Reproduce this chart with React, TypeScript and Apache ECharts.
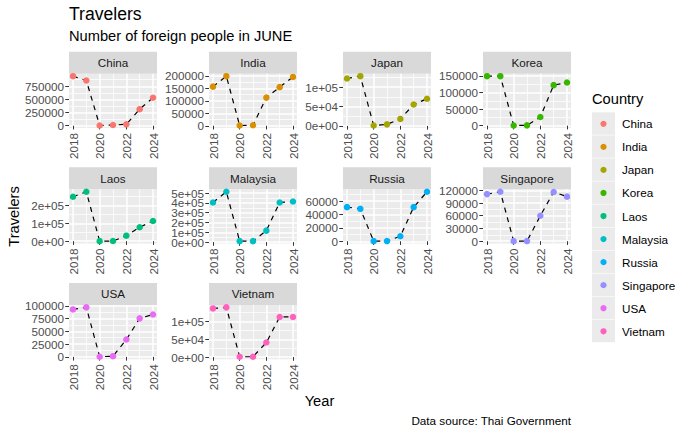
import React, { useEffect, useRef } from 'react';
import * as echarts from 'echarts';

const years = [2018, 2019, 2020, 2021, 2022, 2023, 2024];
const countries = ['China', 'India', 'Japan', 'Korea', 'Laos', 'Malaysia', 'Russia', 'Singapore', 'USA', 'Vietnam'];
const countryColors = ['#F8766D', '#D89000', '#A3A500', '#39B600', '#00BF7D', '#00BFC4', '#00B0F6', '#9590FF', '#E76BF3', '#FF62BC'];

const china = [942000, 860000, 4000, 13000, 27000, 315000, 533000];
const india = [157000, 199000, 1000, 2000, 113000, 155000, 196000];
const japan = [122000, 128000, 1000, 4000, 18000, 55000, 70000];
const korea = [149000, 149000, 500, 1000, 26000, 122000, 130000];
const laos = [248000, 276000, 500, 1000, 31000, 78000, 113000];
const malaysia = [405000, 514000, 10000, 10000, 117000, 405000, 415000];
const russia = [51000, 48500, 200, 300, 7500, 51000, 74000];
const singapore = [111000, 116500, 200, 300, 60000, 116000, 105000];
const usa = [93000, 97000, 300, 1400, 34000, 75500, 83000];
const vietnam = [137000, 140000, 1000, 1000, 41000, 113000, 113000];
const travelers = [china, india, japan, korea, laos, malaysia, russia, singapore, usa, vietnam];

const chinaTicks = [0, 250000, 500000, 750000];
const indiaTicks = [0, 50000, 100000, 150000, 200000];
const japanTicks = [0, 50000, 100000];
const koreaTicks = [0, 50000, 100000, 150000];
const laosTicks = [0, 100000, 200000];
const malaysiaTicks = [0, 100000, 200000, 300000, 400000, 500000];
const russiaTicks = [0, 20000, 40000, 60000];
const singaporeTicks = [0, 30000, 60000, 90000, 120000];
const usaTicks = [0, 25000, 50000, 75000, 100000];
const vietnamTicks = [0, 50000, 100000];
const yTicks = [chinaTicks, indiaTicks, japanTicks, koreaTicks, laosTicks, malaysiaTicks, russiaTicks, singaporeTicks, usaTicks, vietnamTicks];
const sciCountries = ['Japan', 'Laos', 'Malaysia', 'Vietnam'];

const xTicks = [2018, 2020, 2022, 2024];
const xMinorTicks = [2019, 2021, 2023];

const titleText = 'Travelers';
const subtitleText = 'Number of foreign people in JUNE';
const xTitle = 'Year';
const yTitle = 'Travelers';
const captionText = 'Data source: Thai Government';
const legendTitle = 'Country';

const FONT = 'Liberation Sans, Arial, Helvetica, sans-serif';

function sci(v: number): string {
  if (v === 0) return '0e+00';
  const e = Math.floor(Math.log10(Math.abs(v)));
  const m = Math.round((v / Math.pow(10, e)) * 100) / 100;
  return `${m}e+${String(e).padStart(2, '0')}`;
}

function minorOf(ticks: number[], lo: number, hi: number): number[] {
  const step = ticks[1] - ticks[0];
  const out: number[] = [];
  out.push(ticks[0] - step / 2);
  for (let i = 0; i < ticks.length; i++) out.push(ticks[i] + step / 2);
  return out.filter((v) => v > lo && v < hi);
}

export default function App() {
  const ref = useRef<HTMLDivElement>(null);
  useEffect(() => {
    if (!ref.current) return;
    const chart = echarts.init(ref.current, null, { renderer: 'svg' });

    const colLeft = [69, 209, 343, 483];
    const panelW = 88;
    const stripTop = [51.7, 167.3, 282.9];
    const stripH = 22;
    const panelH = 54.3;

    const grids: any[] = [];
    const xAxes: any[] = [];
    const yAxes: any[] = [];
    const series: any[] = [];
    const graphics: any[] = [];

    const xMin = 2018 - 0.3;
    const xMax = 2024 + 0.3;

    const labelBase = {
      show: true, margin: 5, color: '#4D4D4D', fontSize: 11.7, fontFamily: FONT,
      showMinLabel: true, showMaxLabel: true, hideOverlap: false,
    };

    countries.forEach((name, i) => {
      const r = Math.floor(i / 4);
      const c = i % 4;
      const left = colLeft[c];
      const top = stripTop[r] + stripH;
      grids.push({
        left, top, width: panelW, height: panelH,
        show: true, backgroundColor: '#EBEBEB', borderWidth: 0,
      });
      const vals = travelers[i];
      const lo = Math.min(...vals);
      const hi = Math.max(...vals);
      const rng = hi - lo;
      const yMin = lo - 0.05 * rng;
      const yMax = hi + 0.05 * rng;
      const isSci = sciCountries.includes(name);
      const fmt = (v: number) => (isSci ? sci(v) : String(Math.round(v)));

      xAxes.push({
        gridIndex: i, type: 'value', min: xMin, max: xMax,
        axisLine: { show: false },
        axisTick: { show: true, length: 3.7, customValues: xTicks, lineStyle: { color: '#333333', width: 1 } },
        axisLabel: { ...labelBase, customValues: xTicks, rotate: 90, formatter: (v: number) => String(v) },
        splitLine: { show: true, lineStyle: { color: '#FFFFFF', width: 1.5 } },
      });
      xAxes.push({
        gridIndex: i, type: 'value', min: xMin, max: xMax,
        axisLine: { show: false },
        axisTick: { show: false, customValues: xMinorTicks },
        axisLabel: { show: false },
        splitLine: { show: true, lineStyle: { color: '#FFFFFF', width: 0.75 } },
      });
      const yt = yTicks[i];
      const evenLabels = yt.filter((_, k) => k % 2 === 0);
      const oddLabels = yt.filter((_, k) => k % 2 === 1);
      // major: ticks, grid lines and every other label
      yAxes.push({
        gridIndex: i, type: 'value', min: yMin, max: yMax, position: 'left',
        axisLine: { show: false },
        axisTick: { show: true, length: 3.7, customValues: yt, lineStyle: { color: '#333333', width: 1 } },
        axisLabel: { ...labelBase, customValues: evenLabels, formatter: fmt },
        splitLine: { show: true, lineStyle: { color: '#FFFFFF', width: 1.5 } },
      });
      // minor grid lines
      yAxes.push({
        gridIndex: i, type: 'value', min: yMin, max: yMax, position: 'left',
        axisLine: { show: false },
        axisTick: { show: false, customValues: minorOf(yt, yMin, yMax) },
        axisLabel: { show: false },
        splitLine: { show: true, lineStyle: { color: '#FFFFFF', width: 0.75 } },
      });
      // remaining labels
      yAxes.push({
        gridIndex: i, type: 'value', min: yMin, max: yMax, position: 'left', offset: 0,
        axisLine: { show: false },
        axisTick: { show: false, customValues: oddLabels },
        axisLabel: { ...labelBase, customValues: oddLabels, formatter: fmt },
        splitLine: { show: false },
      });

      const data = years.map((y, j) => [y, vals[j]]);
      series.push({
        type: 'line', name: name + ' trend', xAxisIndex: 2 * i, yAxisIndex: 3 * i,
        data, symbol: 'none', silent: true,
        lineStyle: { color: '#000000', width: 1.2, type: [5, 5] },
        z: 2,
      });
      series.push({
        type: 'scatter', name, xAxisIndex: 2 * i, yAxisIndex: 3 * i,
        data, symbolSize: 6.5, itemStyle: { color: countryColors[i], opacity: 1 },
        z: 3,
      });

      graphics.push({
        type: 'rect', shape: { x: left, y: stripTop[r], width: panelW, height: stripH },
        style: { fill: '#D9D9D9' }, silent: true,
      });
      graphics.push({
        type: 'text', x: left + panelW / 2, y: stripTop[r] + stripH / 2,
        style: { text: name, fill: '#1A1A1A', font: `11.7px ${FONT}`, align: 'center', verticalAlign: 'middle' },
        silent: true,
      });
    });

    // titles
    graphics.push({
      type: 'text', x: 69, y: 14,
      style: { text: titleText, fill: '#000', font: `17.6px ${FONT}`, align: 'left', verticalAlign: 'middle' },
    });
    graphics.push({
      type: 'text', x: 69, y: 36,
      style: { text: subtitleText, fill: '#000', font: `14.67px ${FONT}`, align: 'left', verticalAlign: 'middle' },
    });
    graphics.push({
      type: 'text', x: 319.5, y: 401,
      style: { text: xTitle, fill: '#000', font: `14.67px ${FONT}`, align: 'center', verticalAlign: 'middle' },
    });
    graphics.push({
      type: 'text', x: 14, y: 216.5, rotation: Math.PI / 2,
      style: { text: yTitle, fill: '#000', font: `14.67px ${FONT}`, align: 'center', verticalAlign: 'middle' },
    });
    graphics.push({
      type: 'text', x: 571, y: 420,
      style: { text: captionText, fill: '#000', font: `11.7px ${FONT}`, align: 'right', verticalAlign: 'middle' },
    });

    // legend
    graphics.push({
      type: 'text', x: 592, y: 99,
      style: { text: legendTitle, fill: '#000', font: `14.67px ${FONT}`, align: 'left', verticalAlign: 'middle' },
    });
    const keyTop = 112.3;
    const keyH = 23.05;
    countries.forEach((name, i) => {
      const y0 = keyTop + i * keyH;
      graphics.push({
        type: 'rect', shape: { x: 592, y: y0, width: 23, height: keyH - 0.6 },
        style: { fill: '#EBEBEB' }, silent: true,
      });
      graphics.push({
        type: 'circle', shape: { cx: 603.5, cy: y0 + keyH / 2, r: 3.1 },
        style: { fill: countryColors[i] }, silent: true,
      });
      graphics.push({
        type: 'text', x: 622, y: y0 + keyH / 2,
        style: { text: name, fill: '#000', font: `11.7px ${FONT}`, align: 'left', verticalAlign: 'middle' },
        silent: true,
      });
    });

    chart.setOption({
      animation: false,
      backgroundColor: '#FFFFFF',
      textStyle: { fontFamily: FONT },
      grid: grids,
      xAxis: xAxes,
      yAxis: yAxes,
      series,
      graphic: graphics,
    });
    return () => chart.dispose();
  }, []);
  return (
    <div
      ref={ref}
      style={{ position: 'fixed', left: 0, top: 0, width: 690, height: 434, background: '#fff' }}
    />
  );
}
